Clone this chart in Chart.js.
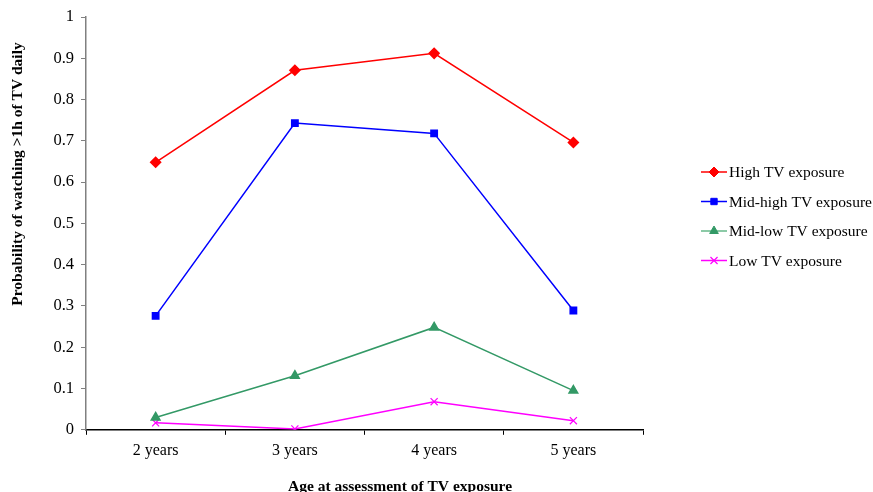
<!DOCTYPE html>
<html>
<head>
<meta charset="utf-8">
<script src="https://cdn.jsdelivr.net/npm/chart.js@4.4.1/dist/chart.umd.min.js"></script>
<style>
    html, body { margin: 0; padding: 0; background: #fff; }
    #wrap { width: 873px; height: 492px; position: relative; }
</style>
</head>
<body>
<div id="wrap"><canvas id="chart" width="873" height="492"></canvas></div>
<script>
const ages = ['2 years', '3 years', '4 years', '5 years'];
const highTV = [0.648, 0.871, 0.912, 0.696];
const midHighTV = [0.276, 0.743, 0.718, 0.289];
const midLowTV = [0.030, 0.131, 0.248, 0.095];
const lowTV = [0.017, 0.002, 0.068, 0.022];
const yTicks = [0, 0.1, 0.2, 0.3, 0.4, 0.5, 0.6, 0.7, 0.8, 0.9, 1];

const serif = '"Liberation Serif", "Times New Roman", serif';

// legend + axis titles drawn by hand to match the excel layout
const extras = {
    id: 'extras',
    afterDraw(chart) {
        const ctx = chart.ctx;
        ctx.save();
        ctx.fillStyle = '#000';
        ctx.font = 'bold 15.5px ' + serif;
        ctx.textAlign = 'center';
        ctx.textBaseline = 'middle';
        ctx.fillText('Age at assessment of TV exposure', 400, 487);

        ctx.translate(18, 174);
        ctx.rotate(-Math.PI / 2);
        ctx.fillText('Probability of watching >1h of TV daily', 0, 0);
        ctx.restore();

        // legend
        ctx.save();
        ctx.font = '15.5px ' + serif;
        ctx.textBaseline = 'middle';
        ctx.textAlign = 'left';
        chart.data.datasets.forEach((ds, i) => {
            const y = 172 + i * 29.5;
            const x0 = 701, x1 = 727;
            ctx.strokeStyle = ds.legendLine || ds.borderColor;
            ctx.lineWidth = 1.5;
            ctx.beginPath();
            ctx.moveTo(x0, y);
            ctx.lineTo(x1, y);
            ctx.stroke();
            ctx.fillStyle = ds.borderColor;
            ctx.strokeStyle = ds.borderColor;
            ctx.lineWidth = ds.pointBorderWidth || 1;
            Chart.helpers.drawPoint(ctx, {
                pointStyle: ds.pointStyle,
                radius: ds.pointRadius,
                borderWidth: ds.pointBorderWidth || 1
            }, (x0 + x1) / 2, y);
            ctx.fillStyle = '#000';
            ctx.fillText(ds.label, 729, y + 1);
        });
        ctx.restore();
    }
};

const ctx = document.getElementById('chart').getContext('2d');
new Chart(ctx, {
    type: 'line',
    data: {
        labels: ages,
        datasets: [{
            label: 'High TV exposure',
            data: highTV,
            borderColor: '#ff0000',
            backgroundColor: '#ff0000',
            pointStyle: 'rectRot',
            pointRadius: 5,
            borderWidth: 1.5
        }, {
            label: 'Mid-high TV exposure',
            data: midHighTV,
            borderColor: '#0000ff',
            backgroundColor: '#0000ff',
            pointStyle: 'rect',
            pointRadius: 4.5,
            borderWidth: 1.5
        }, {
            label: 'Mid-low TV exposure',
            data: midLowTV,
            borderColor: '#339966',
            backgroundColor: '#339966',
            legendLine: '#66b88a',
            pointStyle: 'triangle',
            pointRadius: 5,
            borderWidth: 1.5
        }, {
            label: 'Low TV exposure',
            data: lowTV,
            borderColor: '#ff00ff',
            backgroundColor: '#ff00ff',
            pointStyle: 'crossRot',
            pointRadius: 5,
            pointBorderWidth: 1.2,
            borderWidth: 1.5
        }]
    },
    options: {
        responsive: false,
        animation: false,
        layout: { padding: { left: 4, right: 230, top: 17, bottom: 26 } },
        plugins: {
            legend: { display: false },
            tooltip: { enabled: false }
        },
        scales: {
            x: {
                offset: true,
                grid: {
                    offset: true,
                    drawOnChartArea: false,
                    drawTicks: true,
                    tickLength: 5,
                    color: '#000'
                },
                border: { color: '#000', width: 1.5 },
                ticks: {
                    color: '#000',
                    font: { family: serif, size: 16 },
                    padding: 6
                }
            },
            y: {
                min: 0,
                max: 1,
                afterBuildTicks(scale) {
                    scale.ticks = yTicks.map(v => ({ value: v }));
                },
                grid: {
                    drawOnChartArea: false,
                    drawTicks: true,
                    tickLength: 5,
                    color: '#808080'
                },
                border: { color: '#808080', width: 1.5 },
                ticks: {
                    color: '#000',
                    font: { family: serif, size: 16.5 },
                    padding: 7,
                    callback: v => String(Math.round(v * 10) / 10)
                },
                afterFit(scale) { scale.width = 82; }
            }
        }
    },
    plugins: [extras]
});
</script>
</body>
</html>
